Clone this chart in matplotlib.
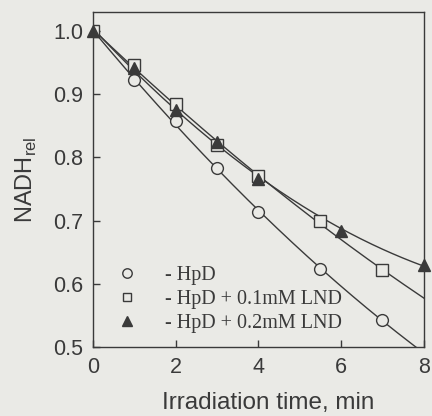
import numpy as np
import matplotlib.pyplot as plt

t_hpd = [0, 1, 2, 3, 4, 5.5, 7]
y_hpd = [1.0, 0.923, 0.857, 0.783, 0.713, 0.623, 0.543]

t_lnd1 = [0, 1, 2, 3, 4, 5.5, 7]
y_lnd1 = [1.0, 0.946, 0.885, 0.820, 0.770, 0.699, 0.621]

t_lnd2 = [0, 1, 2, 3, 4, 6, 8]
y_lnd2 = [1.0, 0.942, 0.875, 0.825, 0.766, 0.684, 0.630]

labels = ['- HpD', '- HpD + 0.1mM LND', '- HpD + 0.2mM LND']

bg = '#eaeae6'
ink = '#3a3a3a'

plt.rcParams['font.family'] = ['Liberation Sans', 'DejaVu Sans']

fig = plt.figure(figsize=(4.32, 4.16), dpi=100, facecolor=bg)
ax = fig.add_axes([0.215, 0.166, 0.766, 0.805])
ax.set_facecolor(bg)

# smooth fitted curves (quadratic fit of each series)
tt = np.linspace(0, 8, 200)
for t, y in [(t_hpd, y_hpd), (t_lnd1, y_lnd1), (t_lnd2, y_lnd2)]:
    c = np.polyfit(t, y, 2)
    ax.plot(tt, np.polyval(c, tt), color=ink, lw=1.0, zorder=2)

ax.plot(t_hpd, y_hpd, 'o', ms=8.5, mfc=bg, mec=ink, mew=1.0, ls='none', label=labels[0], zorder=3)
ax.plot(t_lnd1, y_lnd1, 's', ms=8, mfc=bg, mec=ink, mew=1.0, ls='none', label=labels[1], zorder=3)
ax.plot(t_lnd2, y_lnd2, '^', ms=8.5, mfc=ink, mec=ink, ls='none', label=labels[2], zorder=4, clip_on=False)

ax.set_xlim(0, 8)
ax.set_ylim(0.5, 1.03)
ax.set_xticks([0, 2, 4, 6, 8])
ax.set_yticks([0.5, 0.6, 0.7, 0.8, 0.9, 1.0])
ax.set_yticklabels(['0.5', '0.6', '0.7', '0.8', '0.9', '1.0'])
ax.tick_params(direction='in', length=5, width=1, colors=ink, labelsize=15.5, pad=7)
for s in ax.spines.values():
    s.set_color(ink)
    s.set_linewidth(1.0)

ax.set_xlabel('Irradiation time, min', fontsize=17.5, color=ink, labelpad=10)
ax.xaxis.label.set_x(0.53)
ax.set_ylabel('NADH$_{\\mathregular{rel}}$', fontsize=17, color=ink, labelpad=10)

leg = ax.legend(loc='lower left', frameon=False, prop={'family': 'Liberation Serif', 'size': 14.5},
                handletextpad=0.9, labelspacing=0.25, borderaxespad=0, markerscale=0.8,
                bbox_to_anchor=(0.018, 0.018))
for txt in leg.get_texts():
    txt.set_color(ink)

fig.savefig('out.png', dpi=100, facecolor=bg)
